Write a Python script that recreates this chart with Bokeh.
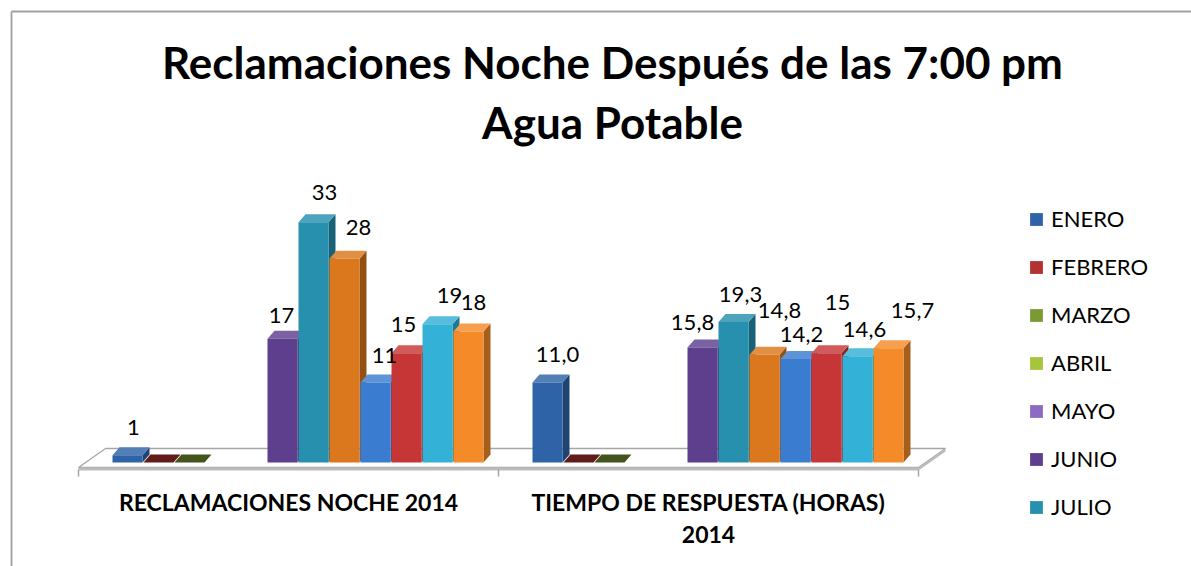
import math
from bokeh.plotting import figure
from bokeh.models import Range1d, ColumnDataSource, Legend, LegendItem
from bokeh.core.properties import value
from bokeh.embed import file_html
from bokeh.resources import INLINE

# ---------------- data ----------------
TITLE_LINES = ["Reclamaciones Noche Después de las 7:00 pm", "Agua Potable"]
CATEGORIES = ["RECLAMACIONES NOCHE 2014", "TIEMPO DE RESPUESTA (HORAS)\n2014"]
MONTHS = ["ENERO", "FEBRERO", "MARZO", "ABRIL", "MAYO", "JUNIO", "JULIO",
          "AGOSTO", "SEPTIEMBRE", "OCTUBRE", "NOVIEMBRE", "DICIEMBRE"]
RECLAMACIONES_NOCHE = [1, 0, 0, None, None, 17, 33, 28, 11, 15, 19, 18]
TIEMPO_RESPUESTA = [11.0, 0, 0, None, None, 15.8, 19.3, 14.8, 14.2, 15, 14.6, 15.7]
LABELS_RECLAMACIONES = ["1", "", "", "", "", "17", "33", "28", "11", "15", "19", "18"]
LABELS_TIEMPO = ["11,0", "", "", "", "", "15,8", "19,3", "14,8", "14,2", "15", "14,6", "15,7"]
LEGEND_ENTRIES = 7  # the legend box only shows the first seven months

# ---------------- styles ----------------
SERIES_COLORS = ["#2E63A8", "#B33232", "#7A9A34", "#A6C43C", "#8C6CC0", "#5E3F8E",
                 "#2690AE", "#DB771D", "#3A7CCF", "#C73636", "#33B1D6", "#F58B28"]
FONT = "Lato"
# manual data-label nudges (px right, px down) as placed in the original
LABEL_NUDGE = [
    [(0, 0), (0, 0), (0, 0), (0, 0), (0, 0), (-7, 5), (5, -2), (8, -3), (3, 1), (-9, -1), (6, -1), (-1, -1)],
    [(4, 0), (0, 0), (0, 0), (0, 0), (0, 0), (-16, 3), (1, 0), (9, -16), (0, 3), (5, -23), (1, 1), (18, -10)],
]

W, H = 1191, 566
ORIGIN_X, BASE_Y = 78.0, 462.0     # page px of category start / value 0
PX_PER_CAT = 420.0
PX_PER_UNIT = 7.28
BAR_PAD, BAR_PITCH, BAR_W = 34.0, 31.0, 30.0
DEPTH_X, DEPTH_Y = 7.0, 8.0
TEXT_DROP = 0.36   # empirical: how far below the requested baseline text is drawn (x font size)


def SX(px):
    return (px - ORIGIN_X) / PX_PER_CAT


def SY(py):
    return (BASE_Y - py) / PX_PER_UNIT


def DX(px):
    return px / PX_PER_CAT


def DY(px):
    return px / PX_PER_UNIT


def TY(baseline_px, size):
    return SY(baseline_px - TEXT_DROP * size)


def shade(hex_color, f):
    h = hex_color.lstrip("#")
    rgb = [int(h[k:k + 2], 16) for k in (0, 2, 4)]
    if f < 1:
        rgb = [int(c * f) for c in rgb]
    else:
        t = f - 1
        rgb = [int(c + (255 - c) * t) for c in rgb]
    return "#%02x%02x%02x" % tuple(max(0, min(255, c)) for c in rgb)


p = figure(width=W, height=H, x_range=Range1d(SX(0), SX(W)),
           y_range=Range1d(SY(H), SY(0)), x_axis_type=None, y_axis_type=None,
           toolbar_location=None, output_backend="svg", title=None, min_border=0)
p.outline_line_color = None
p.background_fill_color = "white"
p.border_fill_color = "white"

# chart border (only top & left edges are inside the picture)
p.segment(x0=[SX(11), SX(11)], y0=[SY(11), SY(11)], x1=[SX(W + 20), SX(11)], y1=[SY(11), SY(H + 20)],
          line_color="#a0a0a0", line_width=1.8)

# 3D floor
fl_front, fl_back = SY(467), SY(448)
back_dx = DX(27)
n_cat = len(CATEGORIES)
p.patch(x=[0, n_cat, n_cat + back_dx, back_dx], y=[fl_front, fl_front, fl_back, fl_back],
        fill_color="white", line_color="#a6a6a6", line_width=1.3)
p.quad(left=[0], right=[n_cat], top=[fl_front], bottom=[SY(470)], fill_color="#bcbcbc", line_color=None)
p.patch(x=[n_cat, n_cat + back_dx, n_cat + back_dx, n_cat],
        y=[fl_front, fl_back, fl_back - DY(3), SY(470)], fill_color="#bcbcbc", line_color=None)
# category ticks
p.segment(x0=list(range(n_cat + 1)), x1=list(range(n_cat + 1)),
          y0=[SY(469)] * (n_cat + 1), y1=[SY(476)] * (n_cat + 1), line_color="#a6a6a6", line_width=1.5)

# bars
ddx, ddy = DX(DEPTH_X), DY(DEPTH_Y)
face_xs, face_ys, face_col = [], [], []
fronts = {i: dict(left=[], right=[], bottom=[], top=[]) for i in range(len(MONTHS))}
lab_x, lab_y, lab_t = [], [], []
for g, (vals, labs) in enumerate([(RECLAMACIONES_NOCHE, LABELS_RECLAMACIONES),
                                  (TIEMPO_RESPUESTA, LABELS_TIEMPO)]):
    for i, v in enumerate(vals):
        x0 = g + DX(BAR_PAD + BAR_PITCH * i)
        x1 = x0 + DX(BAR_W)
        f = fronts[i]
        f["left"].append(x0)
        f["right"].append(x1)
        f["bottom"].append(0)
        f["top"].append(math.nan if v is None else v)
        if v is None:
            continue
        col = SERIES_COLORS[i]
        if v > 0:
            face_xs.append([x1, x1 + ddx, x1 + ddx, x1])
            face_ys.append([0, ddy, v + ddy, v])
            face_col.append(shade(col, 0.68))
            face_xs.append([x0, x1, x1 + ddx, x0 + ddx])
            face_ys.append([v, v, v + ddy, v + ddy])
            face_col.append(shade(col, 1.18))
        else:
            face_xs.append([x0, x1, x1 + ddx, x0 + ddx])
            face_ys.append([0, 0, ddy, ddy])
            face_col.append(shade(col, 0.55))
        if labs[i]:
            nx, ny = LABEL_NUDGE[g][i]
            lab_x.append((x0 + x1) / 2 + DX(6 + nx))
            lab_y.append(v + DY(20 - ny + TEXT_DROP * 22))
            lab_t.append(labs[i])

p.patches(xs="xs", ys="ys", fill_color="c", line_color=None,
          source=ColumnDataSource(dict(xs=face_xs, ys=face_ys, c=face_col)))

front_r = []
for i, m in enumerate(MONTHS):
    r = p.quad(source=ColumnDataSource(fronts[i]), left="left", right="right", bottom="bottom",
               top="top", fill_color=SERIES_COLORS[i], line_color=None)
    front_r.append(r)

# data labels
p.text(x=lab_x, y=lab_y, text=lab_t, text_font=value(FONT), text_font_size="22px",
       text_align="center", text_baseline="alphabetic", text_color="#000000")

# category labels
cx, cy, ct = [], [], []
for g, c in enumerate(CATEGORIES):
    for k, line in enumerate(c.split("\n")):
        cx.append(g + 0.5)
        cy.append(TY(510 + 32 * k, 23))
        ct.append(line)
p.text(x=cx, y=cy, text=ct, text_font=value(FONT), text_font_size="23px", text_font_style="bold",
       text_align="center", text_baseline="alphabetic", text_color="#000000")

# title
p.text(x=[SX(612)] * 2, y=[TY(77, 44), TY(137, 44)], text=TITLE_LINES, text_font=value(FONT),
       text_font_size="44px", text_font_style="bold", text_align="center",
       text_baseline="alphabetic", text_color="#000000")

legend = Legend(items=[LegendItem(label=MONTHS[i], renderers=[front_r[i]]) for i in range(LEGEND_ENTRIES)],
                location=(1028, 46), orientation="vertical", glyph_width=16, glyph_height=16,
                label_height=16, spacing=21, padding=0, margin=0, label_standoff=7,
                border_line_color=None, background_fill_alpha=0,
                label_text_font=FONT, label_text_font_size="22px", label_text_color="#000000")
p.add_layout(legend)

open("out.html", "w").write(file_html(p, INLINE))
